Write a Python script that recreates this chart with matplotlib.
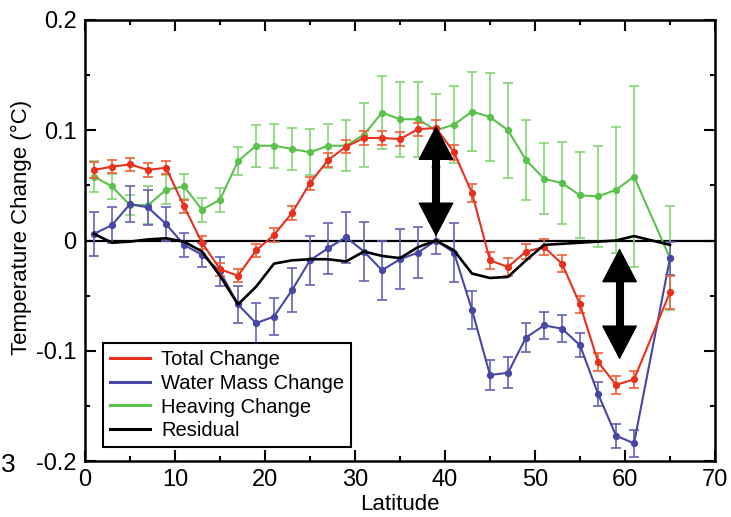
import matplotlib
matplotlib.use("Agg")
import matplotlib.pyplot as plt
from matplotlib.ticker import MultipleLocator, FixedLocator, FixedFormatter

plt.rcParams['font.family'] = ['Liberation Sans', 'DejaVu Sans']
plt.rcParams['axes.unicode_minus'] = False

# ---------------- data ----------------
latitude = [1, 3, 5, 7, 9, 11, 13, 15, 17, 19, 21, 23, 25, 27, 29, 31,
            33, 35, 37, 39, 41, 43, 45, 47, 49, 51, 53, 55, 57, 59, 61, 65]

total_change = [0.064, 0.067, 0.069, 0.064, 0.066, 0.031, -0.002, -0.026,
                -0.032, -0.009, 0.005, 0.025, 0.052, 0.073, 0.085, 0.093,
                0.093, 0.092, 0.101, 0.102, 0.080, 0.043, -0.018, -0.024,
                -0.010, -0.006, -0.021, -0.058, -0.110, -0.131, -0.126, -0.047]
total_err = [0.007, 0.006, 0.006, 0.006, 0.006, 0.006, 0.006, 0.006,
             0.006, 0.006, 0.006, 0.006, 0.006, 0.006, 0.006, 0.006,
             0.006, 0.006, 0.006, 0.007, 0.007, 0.008, 0.008, 0.008,
             0.007, 0.007, 0.008, 0.008, 0.008, 0.008, 0.008, 0.015]

water_mass = [0.006, 0.014, 0.033, 0.030, 0.015, -0.004, -0.013, -0.028,
              -0.058, -0.075, -0.069, -0.045, -0.018, -0.007, 0.003, -0.010,
              -0.027, -0.017, -0.011, 0.000, -0.011, -0.063, -0.122, -0.120,
              -0.088, -0.077, -0.080, -0.095, -0.139, -0.177, -0.184, -0.016]
water_err = [0.020, 0.016, 0.016, 0.016, 0.015, 0.011, 0.011, 0.013,
             0.017, 0.018, 0.017, 0.020, 0.022, 0.023, 0.023, 0.027,
             0.027, 0.027, 0.023, 0.012, 0.027, 0.017, 0.014, 0.014,
             0.013, 0.012, 0.012, 0.011, 0.011, 0.011, 0.012, 0.015]

heaving = [0.058, 0.049, 0.032, 0.032, 0.046, 0.049, 0.028, 0.037,
           0.072, 0.086, 0.086, 0.083, 0.080, 0.086, 0.086, 0.096,
           0.116, 0.110, 0.110, 0.100, 0.105, 0.117, 0.112, 0.100,
           0.073, 0.056, 0.052, 0.041, 0.040, 0.046, 0.058, -0.016]
heaving_err = [0.014, 0.011, 0.009, 0.017, 0.013, 0.011, 0.011, 0.011,
               0.013, 0.019, 0.020, 0.019, 0.021, 0.020, 0.023, 0.029,
               0.033, 0.034, 0.034, 0.033, 0.035, 0.036, 0.040, 0.043,
               0.036, 0.032, 0.037, 0.039, 0.046, 0.057, 0.082, 0.047]

residual = [0.006, -0.002, -0.001, 0.001, 0.002, -0.001, -0.010, -0.032,
            -0.058, -0.042, -0.021, -0.018, -0.017, -0.017, -0.019, -0.010,
            -0.014, -0.016, -0.006, 0.000, -0.009, -0.030, -0.034, -0.033,
            -0.018, -0.004, -0.003, -0.002, -0.001, 0.000, 0.004, -0.004]

series_labels = ["Total Change", "Water Mass Change", "Heaving Change", "Residual"]

x_ticks = [0, 10, 20, 30, 40, 50, 60, 70]
y_ticks = [-0.2, -0.1, 0.0, 0.1, 0.2]
y_tick_labels = ["-0.2", "-0.1", "0", "0.1", "0.2"]

# annotation arrows (latitude, bottom value, top value)
arrow1 = (39.0, 0.0035, 0.104)
arrow2 = (59.4, -0.108, -0.007)

# ---------------- styling ----------------
RED, RED_E = "#e8311c", "#f0603a"
BLUE, BLUE_E = "#4747a6", "#6a60b2"
GREEN, GREEN_E = "#5ac24c", "#86d47a"

fig = plt.figure(figsize=(7.31, 5.17), dpi=100)
ax = fig.add_axes([85 / 731, 1 - 461 / 517, 630 / 731, 441 / 517])

ax.axhline(0, color="black", lw=1.6, zorder=1)

common = dict(marker="o", markersize=4.2, lw=1.5, capsize=3.6, elinewidth=1.2,
              capthick=1.2)
ax.errorbar(latitude, heaving, yerr=heaving_err, color=GREEN, ecolor=GREEN_E,
            zorder=2, **common)
ax.errorbar(latitude, water_mass, yerr=water_err, color=BLUE, ecolor=BLUE_E,
            zorder=3, **common)
ax.errorbar(latitude, total_change, yerr=total_err, color=RED, ecolor=RED_E,
            zorder=4, **common)
ax.plot(latitude, residual, color="black", lw=1.9, zorder=5)

# legend with plain line handles
handles = [plt.Line2D([], [], color=c, lw=2.2) for c in (RED, BLUE, GREEN, "black")]
leg = ax.legend(handles, series_labels, loc="lower left",
                bbox_to_anchor=(18 / 630, 14 / 441), borderaxespad=0,
                fontsize=14.5, frameon=True, fancybox=False, framealpha=1,
                edgecolor="black", handlelength=2.0, handletextpad=0.55,
                labelspacing=0.24, borderpad=0.33)
leg.get_frame().set_linewidth(1.5)

# arrows
for (ax_x, y0, y1) in (arrow1, arrow2):
    ax.annotate("", xy=(ax_x, y1), xytext=(ax_x, y0),
                arrowprops=dict(arrowstyle="<|-|>,head_length=23,head_width=12",
                                mutation_scale=1, lw=1, color="black",
                                shrinkA=0, shrinkB=0),
                zorder=8)
    ax.plot([ax_x, ax_x], [y0 + 0.02, y1 - 0.02], color="black", lw=5.8,
            solid_capstyle="butt", zorder=8)

# axes
ax.set_xlim(0, 70)
ax.set_ylim(-0.2, 0.2)
ax.xaxis.set_major_locator(FixedLocator(x_ticks))
ax.xaxis.set_minor_locator(MultipleLocator(5))
ax.yaxis.set_major_locator(FixedLocator(y_ticks))
ax.yaxis.set_major_formatter(FixedFormatter(y_tick_labels))
ax.yaxis.set_minor_locator(MultipleLocator(0.05))
ax.tick_params(which="both", direction="in", top=True, right=True, width=1.5)
ax.tick_params(which="major", length=8, labelsize=17, pad=6)
ax.tick_params(which="minor", length=3.8)
for s in ax.spines.values():
    s.set_linewidth(1.8)

ax.set_xlabel("Latitude", fontsize=16)
ax.set_ylabel("Temperature Change (°C)", fontsize=16)
ax.xaxis.set_label_coords(0.5, -0.074)
ax.yaxis.set_label_coords(-0.084, 0.53)

# partial panel mark at the left edge of the cropped figure
fig.text(0.5 / 731, 1 - 472 / 517, "3", fontsize=19, ha="left", va="baseline")

fig.savefig("out.png", dpi=100)
